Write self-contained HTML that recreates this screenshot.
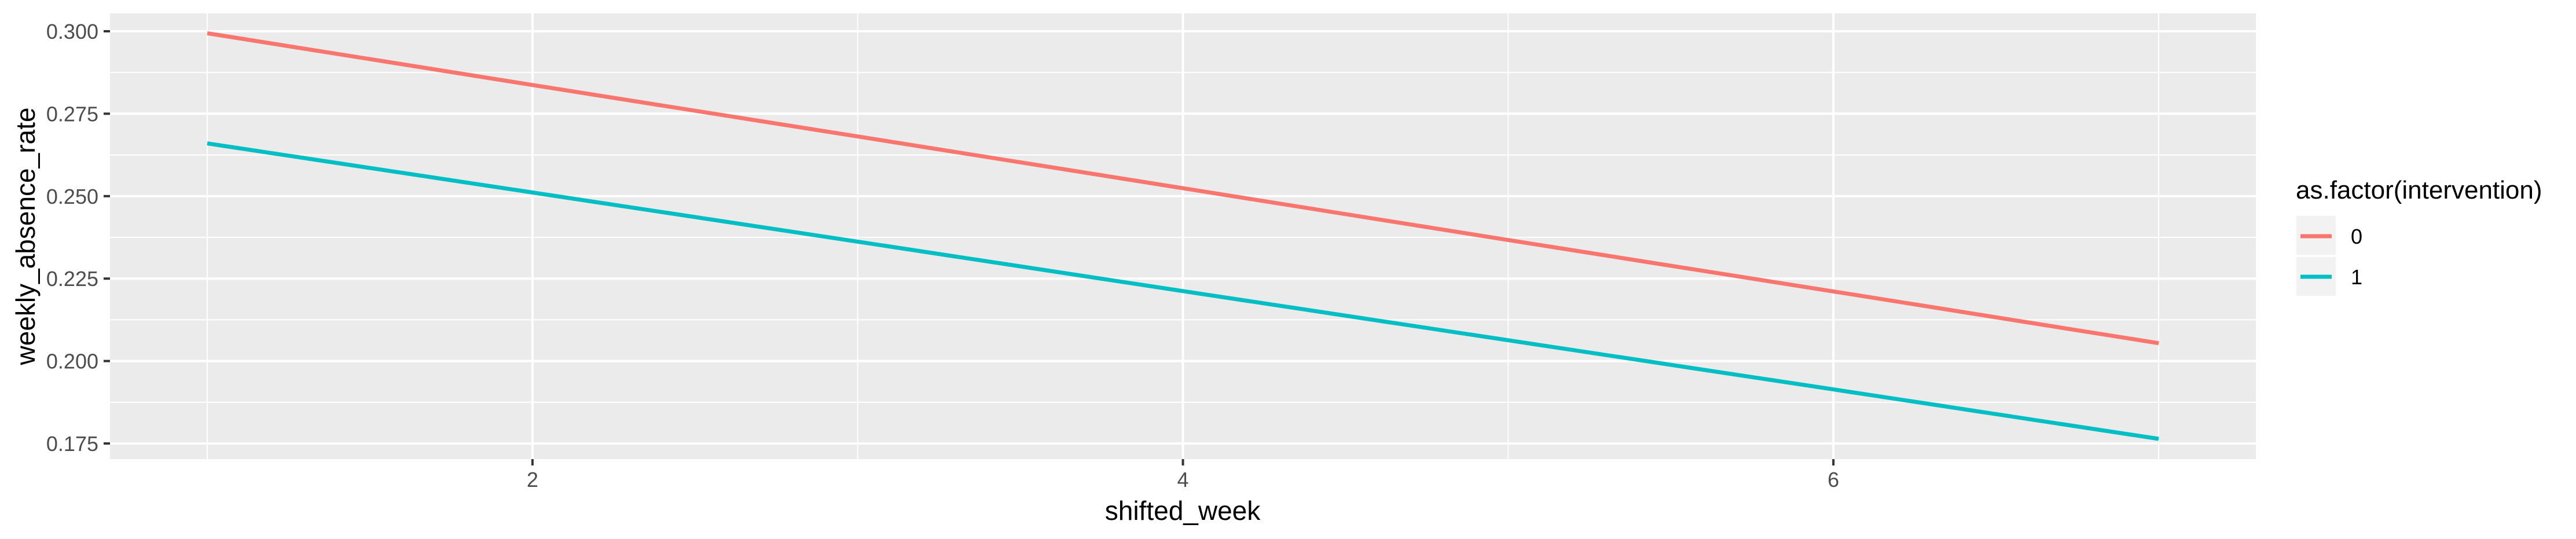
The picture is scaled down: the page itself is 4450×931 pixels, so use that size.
<!DOCTYPE html>
<html><head><meta charset="utf-8"><style>
html,body{margin:0;padding:0;background:#fff;}
svg{display:block;font-family:"Liberation Sans",Arial,sans-serif;}
</style></head><body>
<svg id="chart" width="4450" height="931" viewBox="0 0 4450 931" xmlns="http://www.w3.org/2000/svg">
<rect width="4450" height="931" fill="#fff"/>
<rect x="190" y="23" width="3707" height="770" fill="#ebebeb"/>
<g id="grid"></g>
<g id="series"></g>
<g id="axes"></g>
<text transform="translate(60,408) rotate(-90)" text-anchor="middle" font-size="46" fill="#000">weekly_absence_rate</text>
<text x="2043" y="898" text-anchor="middle" font-size="46" fill="#000">shifted_week</text>
<g>
<text x="3966" y="343" font-size="44" fill="#000">as.factor(intervention)</text>
<rect x="3967" y="373" width="68" height="67" fill="#f2f2f2"/>
<line x1="3974" y1="408" x2="4028" y2="408" stroke="#F8766D" stroke-width="7"/>
<text x="4061" y="421" font-size="36" fill="#000">0</text>
<rect x="3967" y="444" width="68" height="67" fill="#f2f2f2"/>
<line x1="3974" y1="478" x2="4028" y2="478" stroke="#00BFC4" stroke-width="7"/>
<text x="4061" y="491" font-size="36" fill="#000">1</text>
</g>
</svg>
<script>
const weeks = [1, 2, 3, 4, 5, 6, 7];
const rate0 = [0.2994, 0.2837, 0.2681, 0.2524, 0.2367, 0.2211, 0.2054];
const rate1 = [0.2660, 0.2511, 0.2362, 0.2212, 0.2063, 0.1914, 0.1764];
const xTicks = [2, 4, 6];
const yTicks = [0.175, 0.200, 0.225, 0.250, 0.275, 0.300];
const yTickLabels = ["0.175", "0.200", "0.225", "0.250", "0.275", "0.300"];

const NS = "http://www.w3.org/2000/svg";
const PL = 190, PR = 3897, PT = 23, PB = 793;
const X1 = 358, X7 = 3729;
function xs(v){ return X1 + (v - 1) * (X7 - X1) / 6; }
const Y300 = 54, Y175 = 766;
function ys(v){ return Y175 + (v - 0.175) * (Y300 - Y175) / 0.125; }
function mk(tag, attrs, parent){
  const e = document.createElementNS(NS, tag);
  for (const k in attrs) e.setAttribute(k, attrs[k]);
  parent.appendChild(e); return e;
}
const grid = document.getElementById('grid');
const axes = document.getElementById('axes');
const series = document.getElementById('series');
// minor y grid
for (let i = 0; i < yTicks.length - 1; i++) {
  const m = (yTicks[i] + yTicks[i+1]) / 2;
  const l = mk('line', {x1:PL, x2:PR, y1:ys(m), y2:ys(m), stroke:'#fff', 'stroke-width':2}, grid);
  
  
}
// minor x grid
for (const m of [1, 3, 5, 7]) {
  const l = mk('line', {x1:xs(m), x2:xs(m), y1:PT, y2:PB, stroke:'#fff', 'stroke-width':2}, grid);
  
  
}
yTicks.forEach((t, i) => {
  const y = ys(t);
  const g = mk('line', {x1:PL, x2:PR, y1:y, y2:y, stroke:'#fff', 'stroke-width':4}, grid);
  
  
  const tk = mk('line', {x1:PL-11, x2:PL, y1:y, y2:y, stroke:'#333', 'stroke-width':4}, axes);
  
  
  const tx = mk('text', {x:PL-20, y:y+13, 'text-anchor':'end', 'font-size':36, fill:'#4d4d4d'}, axes);
  tx.textContent = yTickLabels[i];
  
  
});
xTicks.forEach(t => {
  const x = xs(t);
  const g = mk('line', {x1:x, x2:x, y1:PT, y2:PB, stroke:'#fff', 'stroke-width':4}, grid);
  
  
  const tk = mk('line', {x1:x, x2:x, y1:PB, y2:PB+11, stroke:'#333', 'stroke-width':4}, axes);
  
  
  const tx = mk('text', {x:x, y:841, 'text-anchor':'middle', 'font-size':36, fill:'#4d4d4d'}, axes);
  tx.textContent = String(t);
  
  
});
function drawLine(vals, color, name){
  const pts = weeks.map((w, i) => xs(w).toFixed(1) + ',' + ys(vals[i]).toFixed(1)).join(' ');
  const p = mk('polyline', {points:pts, fill:'none', stroke:color, 'stroke-width':7, 'stroke-linejoin':'round'}, series);
  
  
}
drawLine(rate0, '#F8766D', 'line-intervention-0');
drawLine(rate1, '#00BFC4', 'line-intervention-1');
</script>
</body></html>
